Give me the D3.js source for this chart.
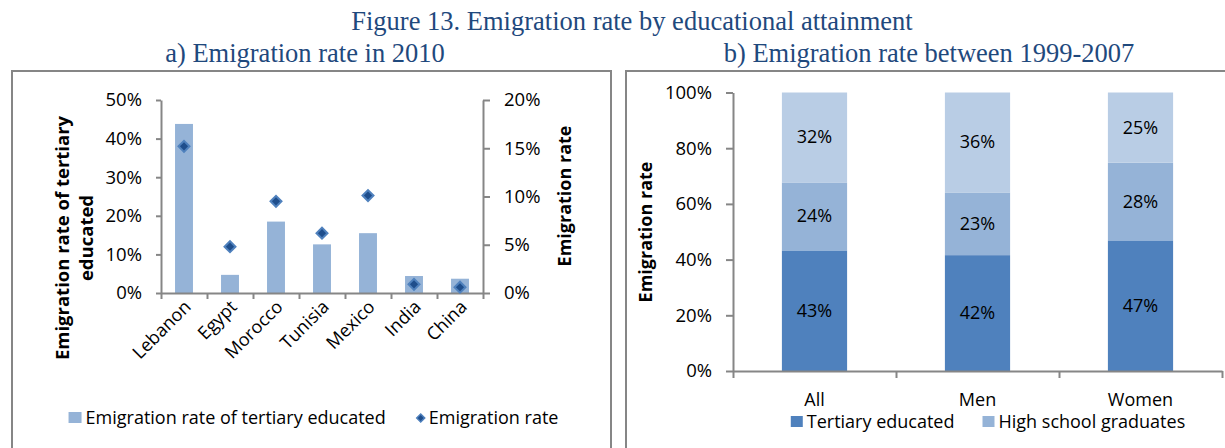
<!DOCTYPE html>
<html>
<head>
<meta charset="utf-8">
<script src="https://d3js.org/d3.v7.min.js"></script>
<style>
  body { margin: 0; background: #fff; }
  svg { display: block; font-family: "Open Sans", sans-serif; }
  .title { font-family: "Liberation Serif", "Times New Roman", serif; fill: #1f497d; font-size: 26.5px; }
  .axis path, .axis line { stroke: #868686; stroke-width: 2px; }
  .axis text { font-family: "Open Sans", sans-serif; font-size: 18.5px; fill: #000; }
  .ylab { font-weight: bold; font-size: 18px; }
  .lab { font-size: 18px; }
</style>
</head>
<body>
<svg id="chart" width="1225" height="448"></svg>
<script>
// panel a) values
const countries = ['Lebanon', 'Egypt', 'Morocco', 'Tunisia', 'Mexico', 'India', 'China'];
const tertiaryRate = [0.438, 0.047, 0.185, 0.126, 0.155, 0.044, 0.037];
const overallRate = [0.152, 0.048, 0.095, 0.062, 0.101, 0.009, 0.006];

// panel b) values (shares of emigrants)
const groups = ['All', 'Men', 'Women'];
const tertiaryShare = [0.433, 0.416, 0.469];
const highSchoolShare = [0.244, 0.225, 0.279];
const otherShare = [0.323, 0.359, 0.252];

const leftTicks = [0, 0.1, 0.2, 0.3, 0.4, 0.5];
const rightTicks = [0, 0.05, 0.1, 0.15, 0.2];
const shareTicks = [0, 0.2, 0.4, 0.6, 0.8, 1];

const svg = d3.select('#chart');
const pct = d3.format('.0%');

// titles
svg.append('text').attr('class', 'title').attr('x', 632).attr('y', 30)
  .attr('text-anchor', 'middle').text('Figure 13. Emigration rate by educational attainment');
svg.append('text').attr('class', 'title').attr('x', 305).attr('y', 62)
  .attr('text-anchor', 'middle').text('a) Emigration rate in 2010');
svg.append('text').attr('class', 'title').attr('x', 929).attr('y', 62)
  .attr('text-anchor', 'middle').text('b) Emigration rate between 1999-2007');

// panel borders
svg.append('rect').attr('x', 12).attr('y', 71).attr('width', 599).attr('height', 400)
  .attr('fill', 'none').attr('stroke', '#868686').attr('stroke-width', 2);
svg.append('rect').attr('x', 626).attr('y', 71).attr('width', 620).attr('height', 400)
  .attr('fill', 'none').attr('stroke', '#868686').attr('stroke-width', 2);

// ---------- panel a ----------
const xA = d3.scaleBand().domain(countries).range([161, 483]);
const xAticks = d3.scaleLinear().domain([0, countries.length]).range([161, 483]);
const yLeft = d3.scaleLinear().domain([0, 0.5]).range([293, 100]);
const yRight = d3.scaleLinear().domain([0, 0.2]).range([293, 100]);
const barFrac = 0.39;

svg.append('g').selectAll('rect')
  .data(countries).enter().append('rect')
  .attr('x', d => xA(d) + xA.bandwidth() * (1 - barFrac) / 2)
  .attr('width', xA.bandwidth() * barFrac)
  .attr('y', (d, i) => yLeft(tertiaryRate[i]))
  .attr('height', (d, i) => yLeft(0) - yLeft(tertiaryRate[i]))
  .attr('fill', '#95b3d7');

svg.append('g').attr('class', 'axis').attr('transform', 'translate(161,0)')
  .call(d3.axisLeft(yLeft).tickValues(leftTicks).tickFormat(pct).tickSize(5).tickSizeOuter(0).tickPadding(14));
svg.append('g').attr('class', 'axis').attr('transform', 'translate(483,0)')
  .call(d3.axisRight(yRight).tickValues(rightTicks).tickFormat(pct).tickSize(7).tickSizeOuter(0).tickPadding(14));
svg.append('g').attr('class', 'axis').attr('transform', 'translate(0,293)')
  .call(d3.axisBottom(xAticks).ticks(countries.length).tickFormat('').tickSize(6).tickSizeOuter(0));

const diamond = d3.symbol().type(d3.symbolSquare).size(60);
svg.append('g').selectAll('path')
  .data(countries).enter().append('path')
  .attr('d', diamond)
  .attr('transform', (d, i) => `translate(${xA(d) + xA.bandwidth() / 2},${yRight(overallRate[i])}) rotate(45)`)
  .attr('fill', '#1f4e8c').attr('stroke', '#4f81bd').attr('stroke-width', 2);

svg.append('g').selectAll('text')
  .data(countries).enter().append('text')
  .attr('class', 'lab')
  .attr('text-anchor', 'end')
  .attr('transform', d => `translate(${xA(d) + xA.bandwidth() / 2 + 8},${308}) rotate(-45)`)
  .text(d => d);

svg.append('text').attr('class', 'ylab').attr('text-anchor', 'middle').style('font-size', '18.5px')
  .attr('transform', 'translate(69,238) rotate(-90)').text('Emigration rate of tertiary');
svg.append('text').attr('class', 'ylab').attr('text-anchor', 'middle').style('font-size', '18.5px')
  .attr('transform', 'translate(93,238) rotate(-90)').text('educated');
svg.append('text').attr('class', 'ylab').attr('text-anchor', 'middle')
  .attr('transform', 'translate(571,196) rotate(-90)').text('Emigration rate');

// legend a
const legA = svg.append('g');
const la1 = legA.append('g');
la1.append('rect').attr('x', 0).attr('y', -12).attr('width', 13).attr('height', 11).attr('fill', '#95b3d7');
la1.append('text').attr('class', 'lab').attr('x', 17).attr('y', 0).text('Emigration rate of tertiary educated');
const la2 = legA.append('g');
la2.append('path').attr('d', d3.symbol().type(d3.symbolSquare).size(32))
  .attr('transform', 'translate(5,-6) rotate(45)')
  .attr('fill', '#1f4e8c').attr('stroke', '#4f81bd').attr('stroke-width', 1.5);
la2.append('text').attr('class', 'lab').attr('x', 13).attr('y', 0).text('Emigration rate');
{
  const w1 = la1.node().getBBox().width, w2 = la2.node().getBBox().width, gap = 30;
  const start = 313 - (w1 + gap + w2) / 2;
  la1.attr('transform', `translate(${start},424)`);
  la2.attr('transform', `translate(${start + w1 + gap},424)`);
}

// ---------- panel b ----------
const xB = d3.scaleBand().domain(groups).range([733, 1222]);
const xBticks = d3.scaleLinear().domain([0, groups.length]).range([733, 1222]);
const yB = d3.scaleLinear().domain([0, 1]).range([371, 92.5]);
const seriesB = [
  { key: 'Tertiary educated', vals: tertiaryShare, color: '#4f81bd', legend: true },
  { key: 'High school graduates', vals: highSchoolShare, color: '#95b3d7', legend: true },
  { key: 'Other', vals: otherShare, color: '#b9cde5', legend: false }
];
const rows = groups.map((g, i) => {
  const r = { group: g };
  seriesB.forEach(s => { r[s.key] = s.vals[i]; });
  return r;
});
const stacked = d3.stack().keys(seriesB.map(s => s.key))(rows);
const barFracB = 0.4;

const layers = svg.append('g').selectAll('g').data(stacked).enter().append('g')
  .attr('fill', (d, i) => seriesB[i].color);
layers.selectAll('rect').data(d => d).enter().append('rect')
  .attr('x', d => xB(d.data.group) + xB.bandwidth() * (1 - barFracB) / 2)
  .attr('width', xB.bandwidth() * barFracB)
  .attr('y', d => yB(Math.min(d[1], 1)))
  .attr('height', d => yB(d[0]) - yB(Math.min(d[1], 1)));
layers.selectAll('text').data(d => d).enter().append('text')
  .attr('class', 'lab').attr('fill', '#000').attr('text-anchor', 'middle')
  .attr('x', d => xB(d.data.group) + xB.bandwidth() / 2)
  .attr('y', d => (yB(d[0]) + yB(Math.min(d[1], 1))) / 2 + 6)
  .text(d => pct(d[1] - d[0]));

svg.append('g').attr('class', 'axis').attr('transform', 'translate(733,0)')
  .call(d3.axisLeft(yB).tickValues(shareTicks).tickFormat(pct).tickSize(7).tickSizeOuter(0).tickPadding(14));
svg.append('g').attr('class', 'axis').attr('transform', 'translate(0,371)')
  .call(d3.axisBottom(xBticks).ticks(groups.length).tickFormat('').tickSize(7).tickSizeOuter(0));

svg.append('g').selectAll('text').data(groups).enter().append('text')
  .attr('class', 'lab').attr('text-anchor', 'middle')
  .attr('x', d => xB(d) + xB.bandwidth() / 2).attr('y', 406)
  .text(d => d);

svg.append('text').attr('class', 'ylab').attr('text-anchor', 'middle')
  .attr('transform', 'translate(652,232) rotate(-90)').text('Emigration rate');

// legend b
const legB = svg.append('g');
const itemsB = seriesB.filter(s => s.legend).map(s => {
  const g = legB.append('g');
  g.append('rect').attr('x', 0).attr('y', -12).attr('width', 12).attr('height', 11).attr('fill', s.color);
  g.append('text').attr('class', 'lab').attr('x', 16).attr('y', 0).text(s.key);
  return g;
});
{
  const ws = itemsB.map(g => g.node().getBBox().width), gap = 28;
  let x = 988 - (d3.sum(ws) + gap) / 2;
  itemsB.forEach((g, i) => { g.attr('transform', `translate(${x},428)`); x += ws[i] + gap; });
}
</script>
</body>
</html>
